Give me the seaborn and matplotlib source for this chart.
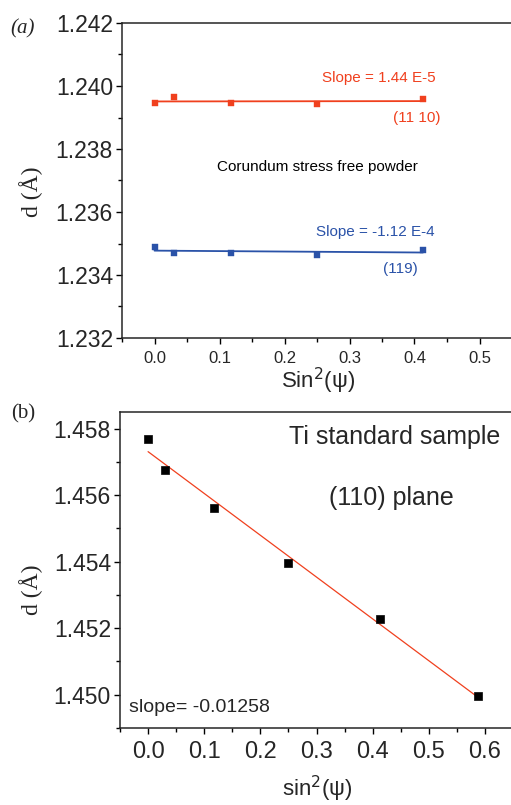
import numpy as np
import pandas as pd
import matplotlib
matplotlib.use("Agg")
import matplotlib.pyplot as plt
from matplotlib.ticker import MultipleLocator, AutoMinorLocator, FormatStrFormatter
import seaborn as sns

# panel (a): corundum powder
psi_a = [0.0, 0.030, 0.117, 0.250, 0.413]
d_1110 = [1.23945, 1.23966, 1.23945, 1.23943, 1.23958]
d_119 = [1.23490, 1.23471, 1.23471, 1.23464, 1.23479]

# panel (b): Ti standard
psi_b = [0.0, 0.031, 0.117, 0.250, 0.413, 0.587]
d_ti = [1.45769, 1.45677, 1.45562, 1.45396, 1.45228, 1.44995]

RED = "#f0401e"
BLUE = "#2a52a8"
SANS = "Liberation Sans"
SERIF = "Liberation Serif"

sns.set_style("ticks")
plt.rcParams["font.family"] = [SANS, "DejaVu Sans"]
plt.rcParams["axes.linewidth"] = 1.1

W, H = 511, 805
fig = plt.figure(figsize=(W / 100, H / 100), dpi=100)


def px_axes(left, top, right, bottom):
    return fig.add_axes([left / W, 1 - bottom / H, (right - left) / W, (bottom - top) / H])


def style(ax, xfs, yfs):
    ax.spines["right"].set_visible(False)
    ax.xaxis.set_major_locator(MultipleLocator(0.1))
    ax.xaxis.set_minor_locator(AutoMinorLocator(2))
    ax.yaxis.set_major_locator(MultipleLocator(0.002))
    ax.yaxis.set_minor_locator(AutoMinorLocator(2))
    ax.yaxis.set_major_formatter(FormatStrFormatter("%.3f"))
    ax.tick_params(which="major", direction="out", length=4.5, width=1.0, color="black")
    ax.tick_params(which="minor", direction="out", length=2.8, width=1.0, color="black")
    ax.tick_params(axis="x", labelsize=xfs, pad=5)
    ax.tick_params(axis="y", labelsize=yfs, pad=2)
    ax.set_xlabel("")
    ax.set_ylabel("")


def fit_line(ax, x, y, color, lw):
    k, b = np.polyfit(x, y, 1)
    xs = np.array([min(x), max(x)])
    sns.lineplot(x=xs, y=k * xs + b, ax=ax, color=color, lw=lw)


# ---- (a)
ax1 = px_axes(122, 23, 512, 338)
df_a = pd.DataFrame({"x": psi_a, "d1": d_1110, "d2": d_119})
fit_line(ax1, psi_a, d_1110, RED, 1.3)
fit_line(ax1, psi_a, d_119, BLUE, 1.3)
sns.scatterplot(data=df_a, x="x", y="d1", ax=ax1, marker="s", s=13, color=RED, edgecolor=RED, zorder=3)
sns.scatterplot(data=df_a, x="x", y="d2", ax=ax1, marker="s", s=13, color=BLUE, edgecolor=BLUE, zorder=3)
ax1.set_xlim(-0.05, 0.55)
ax1.set_ylim(1.232, 1.242)
style(ax1, 12, 16.5)

ax1.text(0.345, 1.24025, "Slope = 1.44 E-5", color=RED, fontsize=11, ha="center", va="center")
ax1.text(0.404, 1.23898, "(11 10)", color=RED, fontsize=11, ha="center", va="center")
ax1.text(0.251, 1.23743, "Corundum stress free powder", color="black", fontsize=11, ha="center", va="center")
ax1.text(0.339, 1.23536, "Slope = -1.12 E-4", color=BLUE, fontsize=11, ha="center", va="center")
ax1.text(0.378, 1.23418, "(119)", color=BLUE, fontsize=11, ha="center", va="center")

fig.text(318 / W, 1 - 381 / H, r"Sin$^2$($\mathregular{\psi}$)", fontsize=16, ha="center", va="center")
fig.text(31 / W, 1 - 192 / H, "d (Å)", family=SERIF, fontsize=17, rotation=90, ha="center", va="center")
fig.text(23 / W, 1 - 29 / H, "(a)", family=SERIF, style="italic", fontsize=15, ha="center", va="center")

# ---- (b)
ax2 = px_axes(120, 412, 512, 728)
df_b = pd.DataFrame({"x": psi_b, "d": d_ti})
fit_line(ax2, psi_b, d_ti, RED, 0.9)
sns.scatterplot(data=df_b, x="x", y="d", ax=ax2, marker="s", s=36, color="black", edgecolor="black", zorder=3)
ax2.set_xlim(-0.05, 0.648)
ax2.set_ylim(1.449, 1.4585)
style(ax2, 17, 16.5)

ax2.text(0.439, 1.45775, "Ti standard sample", fontsize=18, ha="center", va="center")
ax2.text(0.434, 1.45592, "(110) plane", fontsize=18, ha="center", va="center")
ax2.text(0.092, 1.44963, "slope= -0.01258", fontsize=14, ha="center", va="center")

fig.text(317 / W, 1 - 789 / H, r"sin$^2$($\mathregular{\psi}$)", fontsize=16, ha="center", va="center")
fig.text(31 / W, 1 - 590 / H, "d (Å)", family=SERIF, fontsize=17, rotation=90, ha="center", va="center")
fig.text(23 / W, 1 - 414 / H, "(b)", family=SERIF, fontsize=15, ha="center", va="center")

fig.savefig("out.png", dpi=100)
